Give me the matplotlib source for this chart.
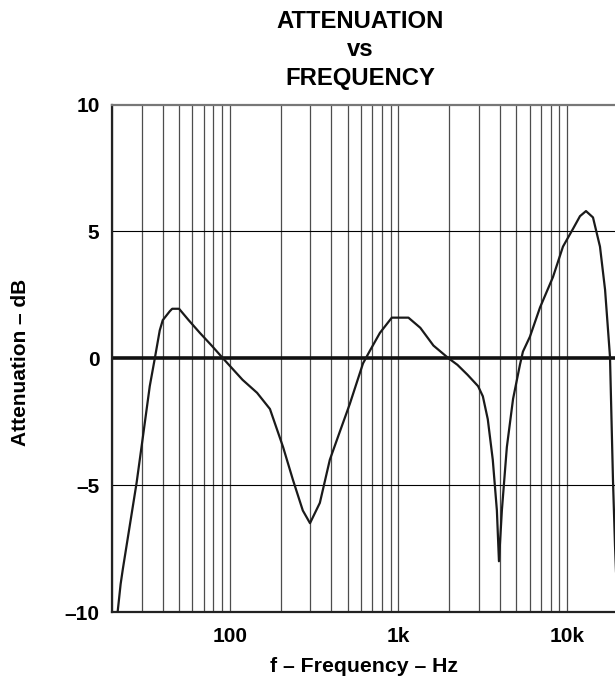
import matplotlib
matplotlib.use("Agg")
import matplotlib.pyplot as plt
import matplotlib.ticker as mticker
import numpy as np

plt.rcParams['font.family'] = ['Liberation Sans', 'DejaVu Sans']
plt.rcParams['font.weight'] = 'bold'

# values
freq = [21.6, 22.5, 23.2, 28, 30.5, 33.5, 35.9, 38.4, 40, 44, 45.5, 50, 57, 66.4,
        78, 91, 119, 145, 173, 207, 237, 271, 299, 342, 392, 449, 515, 617, 678,
        777, 914, 1147, 1349, 1614, 1983, 2240, 2570, 2970, 3170, 3390, 3630,
        3840, 3950, 4110, 4400, 4790, 5260, 5480, 6030, 6920, 8260, 9470, 10860,
        11950, 12970, 14270, 15700, 16830, 18000, 18750, 19280, 19700]
atten = [-10.0, -8.9, -8.3, -4.9, -3.1, -1.1, 0.0, 1.1, 1.5, 1.85, 1.95, 1.95, 1.5,
         1.0, 0.5, 0.0, -0.85, -1.36, -2.0, -3.5, -4.8, -6.0, -6.5, -5.7, -4.0,
         -2.9, -1.8, -0.2, 0.3, 1.0, 1.6, 1.6, 1.2, 0.5, 0.0, -0.26, -0.65, -1.1,
         -1.5, -2.4, -4.0, -6.0, -8.0, -6.0, -3.5, -1.6, -0.26, 0.26, 0.85, 2.0,
         3.2, 4.4, 5.1, 5.6, 5.8, 5.55, 4.4, 2.7, 0.06, -4.8, -7.4, -9.0]

xticks = [100, 1000, 10000]
xticklabels = ['100', '1k', '10k']
yticks = [-10, -5, 0, 5, 10]
yticklabels = ['\u201310', '\u20135', '0', '5', '10']

W, H = 615, 677
fig = plt.figure(figsize=(W / 100, H / 100), dpi=100)
ax = fig.add_axes([112 / W, 1 - 612 / H, (617.7 - 112) / W, (612 - 104.5) / H])

ax.set_xscale('log')
ax.set_xlim(20, 20000)
ax.set_ylim(-10, 10)

# grid
ax.xaxis.set_minor_locator(mticker.LogLocator(base=10, subs=np.arange(2, 10)))
ax.grid(True, which='both', axis='x', color='#4d4d4d', lw=0.9)
ax.axhline(5, color='black', lw=0.8)
ax.axhline(-5, color='black', lw=0.8)
ax.axhline(0, color='#111111', lw=2.6, zorder=2)

ax.plot(freq, atten, color='#1a1a1a', lw=1.6, zorder=3)

ax.set_xticks(xticks)
ax.set_xticklabels(xticklabels)
ax.xaxis.set_minor_formatter(mticker.NullFormatter())
ax.set_yticks(yticks)
ax.set_yticklabels(yticklabels)
ax.tick_params(which='both', length=0, labelsize=15)
ax.tick_params(axis='x', pad=11)
ax.tick_params(axis='y', pad=9)
for lab in ax.get_xticklabels() + ax.get_yticklabels():
    lab.set_fontweight('bold')

ax.spines['left'].set_linewidth(1.6)
ax.spines['left'].set_color('#222222')
ax.spines['bottom'].set_linewidth(1.6)
ax.spines['bottom'].set_color('#222222')
ax.spines['top'].set_linewidth(1.6)
ax.spines['top'].set_color('#777777')
ax.spines['right'].set_visible(False)

# titles and labels
for txt, yb in [('ATTENUATION', 28), ('vs', 56), ('FREQUENCY', 85)]:
    fig.text(360 / W, 1 - yb / H, txt, ha='center', va='baseline',
             fontsize=17.2, fontweight='bold')
fig.text(364 / W, 1 - 672 / H, 'f \u2013 Frequency \u2013 Hz', ha='center',
         va='baseline', fontsize=15.3, fontweight='bold')
fig.text(21 / W, 1 - 362 / H, 'Attenuation \u2013 dB', ha='center', va='center',
         rotation=90, fontsize=15, fontweight='bold')

fig.savefig('out.png', dpi=100)
